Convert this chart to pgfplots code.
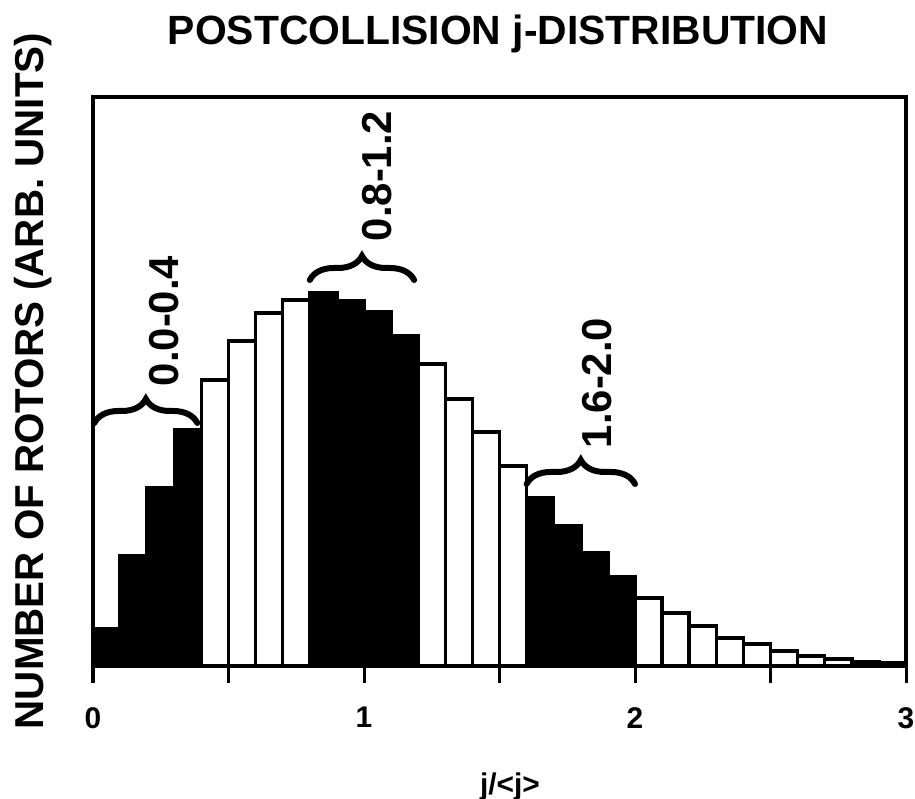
\documentclass[border=0pt]{standalone}
\usepackage{pgfplots}
\pgfplotsset{compat=1.18}
\usepackage{fontspec}
\setmainfont{Liberation Sans}
\usetikzlibrary{decorations.pathreplacing}
\begin{document}
\begin{tikzpicture}
\useasboundingbox (-93bp,-133bp) rectangle (822bp,666bp);
\begin{axis}[
  at={(0,0)}, anchor=south west,
  scale only axis, width=813bp, height=569bp,
  xmin=0, xmax=3, ymin=0, ymax=569,
  clip=false,
  axis line style={line width=3.5bp, black},
  xtick={0,1,2,3}, minor xtick={0.5,1.5,2.5},
  ytick=\empty,
  xtick pos=bottom, tick align=outside,
  major tick length=17bp, minor tick length=17bp,
  every tick/.style={black, line width=3bp},
  /pgf/number format/assume math mode=true,
  xticklabel style={font=\fontsize{30}{30}\selectfont\bfseries, anchor=north, inner sep=0pt, yshift=-24bp},
]
\addplot[ybar interval, fill=black, draw=black, line width=3.5bp] coordinates {
 (0.0,37) (0.1,110) (0.2,178) (0.3,236) (0.4,0)};
\addplot[ybar interval, fill=white, draw=black, line width=3.5bp] coordinates {
 (0.4,286) (0.5,325) (0.6,353) (0.7,366) (0.8,0)};
\addplot[ybar interval, fill=black, draw=black, line width=3.5bp] coordinates {
 (0.8,373) (0.9,365) (1.0,354) (1.1,330) (1.2,0)};
\addplot[ybar interval, fill=white, draw=black, line width=3.5bp] coordinates {
 (1.2,302) (1.3,267) (1.4,234) (1.5,200) (1.6,0)};
\addplot[ybar interval, fill=black, draw=black, line width=3.5bp] coordinates {
 (1.6,168) (1.7,140) (1.8,113) (1.9,89) (2.0,0)};
\addplot[ybar interval, fill=white, draw=black, line width=3.5bp] coordinates {
 (2.0,68) (2.1,53) (2.2,40) (2.3,28) (2.4,22) (2.5,15) (2.6,10) (2.7,7) (2.8,4) (2.9,3) (3.0,0)};
\draw[line width=6bp, line cap=round, decorate, decoration={brace, amplitude=24bp}] (axis cs:0.005,243) -- (axis cs:0.385,243);
\draw[line width=6bp, line cap=round, decorate, decoration={brace, amplitude=24bp}] (axis cs:0.80,386) -- (axis cs:1.185,386);
\draw[line width=6bp, line cap=round, decorate, decoration={brace, amplitude=24bp}] (axis cs:1.60,182) -- (axis cs:2.0,182);
\node[rotate=90, inner sep=0pt, font=\fontsize{42}{42}\selectfont\bfseries] at (axis cs:0.262,345) {0.0-0.4};
\node[rotate=90, inner sep=0pt, font=\fontsize{42}{42}\selectfont\bfseries] at (axis cs:1.048,490) {0.8-1.2};
\node[rotate=90, inner sep=0pt, font=\fontsize{42}{42}\selectfont\bfseries] at (axis cs:1.86,283) {1.6-2.0};
\end{axis}
\node[anchor=base, inner sep=0pt, font=\fontsize{41}{41}\selectfont\bfseries] at (405bp,621bp) {POSTCOLLISION j-DISTRIBUTION};
\node[anchor=base, rotate=90, inner sep=0pt, font=\fontsize{40.5}{40.5}\selectfont\bfseries] at (-49bp,285bp) {NUMBER OF ROTORS (ARB. UNITS)};
\node[anchor=base, inner sep=0pt, font=\fontsize{30}{30}\selectfont\bfseries] at (417bp,-128bp) {j/<j>};
\end{tikzpicture}
\end{document}
